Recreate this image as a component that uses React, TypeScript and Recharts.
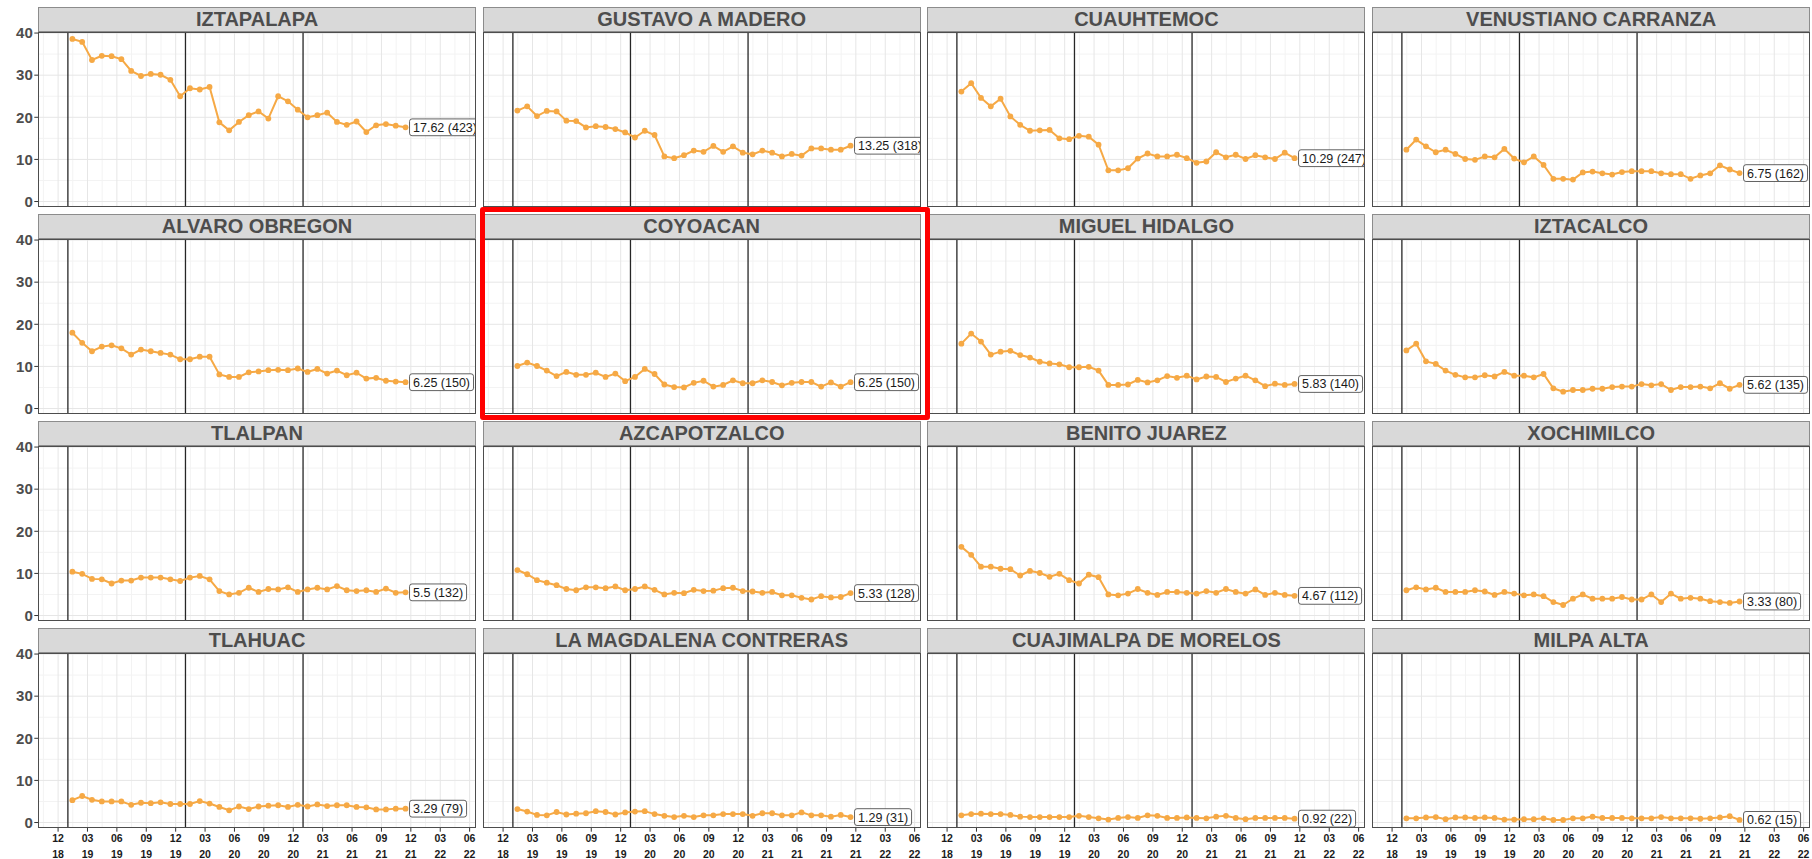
import React from 'react';
import { LineChart, Line, XAxis, YAxis, CartesianGrid, ReferenceLine } from 'recharts';

const FONT = '"Liberation Sans", Arial, Helvetica, sans-serif';
const ORANGE = '#f6a945';

// facet names, in grid order (4 x 4)
const BOROUGHS = [
  'IZTAPALAPA', 'GUSTAVO A MADERO', 'CUAUHTEMOC', 'VENUSTIANO CARRANZA',
  'ALVARO OBREGON', 'COYOACAN', 'MIGUEL HIDALGO', 'IZTACALCO',
  'TLALPAN', 'AZCAPOTZALCO', 'BENITO JUAREZ', 'XOCHIMILCO',
  'TLAHUAC', 'LA MAGDALENA CONTRERAS', 'CUAJIMALPA DE MORELOS', 'MILPA ALTA',
];

// count shown in the end label "(n)"
const LAST_COUNTS = [423, 318, 247, 162, 150, 150, 140, 135, 132, 128, 112, 80, 79, 31, 22, 15];

// monthly values, Jan 2019 .. Nov 2021
const iztapalapa = [38.6, 37.9, 33.6, 34.6, 34.5, 33.8, 31.0, 29.8, 30.3, 30.1, 28.9, 25.0, 26.9, 26.6, 27.2, 18.8, 16.9, 18.9, 20.5, 21.4, 19.7, 25.0, 23.8, 21.8, 20.0, 20.5, 21.1, 18.9, 18.2, 19.0, 16.5, 18.1, 18.4, 18.0, 17.62];
const gustavoAMadero = [21.6, 22.6, 20.3, 21.5, 21.4, 19.2, 19.1, 17.6, 17.9, 17.7, 17.2, 16.4, 15.2, 16.8, 15.8, 10.7, 10.3, 11.0, 12.1, 11.8, 13.2, 11.8, 13.1, 11.6, 11.2, 12.1, 11.6, 10.7, 11.3, 10.9, 12.6, 12.6, 12.3, 12.3, 13.25];
const cuauhtemoc = [26.1, 28.1, 24.6, 22.6, 24.4, 20.2, 18.2, 16.8, 16.9, 17.0, 15.0, 14.8, 15.6, 15.4, 13.5, 7.4, 7.4, 7.9, 10.2, 11.4, 10.7, 10.7, 11.1, 10.3, 9.2, 9.5, 11.7, 10.5, 11.1, 10.1, 11.0, 10.5, 10.1, 11.6, 10.29];
const venustianoCarranza = [12.3, 14.7, 13.1, 11.7, 12.3, 11.3, 10.1, 9.9, 10.7, 10.5, 12.5, 10.2, 9.3, 10.7, 8.7, 5.4, 5.4, 5.2, 6.9, 7.1, 6.7, 6.4, 7.0, 7.2, 7.2, 7.2, 6.7, 6.5, 6.5, 5.4, 6.2, 6.7, 8.6, 7.6, 6.75];
const alvaroObregon = [18.0, 15.6, 13.6, 14.7, 15.0, 14.3, 12.8, 14.0, 13.6, 13.2, 12.8, 11.7, 11.7, 12.3, 12.3, 8.1, 7.5, 7.5, 8.6, 8.8, 9.1, 9.2, 9.1, 9.5, 8.7, 9.4, 8.3, 9.0, 7.9, 8.5, 7.1, 7.3, 6.6, 6.4, 6.25];
const coyoacan = [10.1, 10.9, 10.1, 9.0, 7.7, 8.7, 8.0, 8.0, 8.5, 7.5, 8.3, 6.5, 7.5, 9.4, 8.2, 5.7, 5.1, 5.0, 6.1, 6.6, 5.2, 5.6, 6.7, 6.0, 6.0, 6.7, 6.3, 5.5, 6.1, 6.3, 6.3, 5.2, 6.2, 5.2, 6.25];
const miguelHidalgo = [15.4, 17.8, 15.9, 12.8, 13.5, 13.7, 12.7, 12.1, 11.1, 10.7, 10.5, 9.8, 9.8, 9.9, 9.0, 5.6, 5.6, 5.7, 6.8, 6.2, 6.7, 7.7, 7.3, 7.8, 6.9, 7.6, 7.5, 6.3, 7.1, 7.8, 6.7, 5.3, 5.9, 5.6, 5.83];
const iztacalco = [13.8, 15.4, 11.2, 10.6, 9.0, 8.0, 7.4, 7.4, 7.9, 7.6, 8.7, 7.8, 7.8, 7.4, 8.2, 4.8, 4.0, 4.4, 4.4, 4.7, 4.7, 5.1, 5.2, 5.2, 5.8, 5.5, 5.8, 4.4, 5.1, 5.1, 5.2, 4.8, 6.0, 4.7, 5.62];
const tlalpan = [10.4, 9.9, 8.7, 8.6, 7.6, 8.3, 8.3, 9.0, 9.0, 9.0, 8.6, 8.2, 9.0, 9.4, 8.6, 5.8, 5.0, 5.4, 6.6, 5.6, 6.3, 6.2, 6.7, 5.6, 6.2, 6.6, 6.2, 7.0, 6.0, 5.8, 6.0, 5.6, 6.4, 5.4, 5.5];
const azcapotzalco = [10.8, 9.8, 8.4, 7.8, 7.2, 6.3, 6.0, 6.7, 6.7, 6.5, 6.9, 6.0, 6.3, 6.9, 6.1, 5.0, 5.4, 5.3, 6.1, 5.8, 5.9, 6.5, 6.6, 5.8, 5.7, 5.4, 5.6, 4.8, 4.8, 4.2, 3.8, 4.6, 4.3, 4.4, 5.33];
const benitoJuarez = [16.3, 14.4, 11.6, 11.6, 11.1, 11.0, 9.5, 10.6, 10.1, 9.2, 9.9, 8.4, 7.6, 9.7, 9.1, 5.0, 4.8, 5.2, 6.3, 5.4, 4.9, 5.6, 5.6, 5.4, 5.2, 5.8, 5.4, 6.3, 5.6, 5.2, 6.2, 4.9, 5.4, 4.9, 4.67];
const xochimilco = [6.0, 6.7, 6.2, 6.6, 5.6, 5.6, 5.6, 6.0, 5.7, 4.9, 5.6, 5.2, 4.8, 5.0, 4.6, 3.2, 2.5, 4.0, 5.0, 4.0, 4.0, 4.0, 4.4, 3.8, 3.8, 5.0, 3.2, 5.2, 4.0, 4.2, 4.0, 3.4, 3.2, 3.0, 3.33];
const tlahuac = [5.3, 6.3, 5.4, 5.0, 5.0, 5.0, 4.2, 4.7, 4.6, 4.8, 4.4, 4.4, 4.4, 5.1, 4.5, 3.7, 2.9, 3.8, 3.2, 3.8, 4.0, 4.1, 3.7, 4.2, 3.8, 4.3, 3.9, 4.1, 4.1, 3.7, 3.6, 3.1, 3.1, 3.3, 3.29];
const magdalenaContreras = [3.2, 2.6, 1.8, 1.7, 2.5, 1.9, 2.1, 2.2, 2.7, 2.5, 1.9, 2.4, 2.6, 2.7, 2.0, 1.6, 1.3, 1.6, 1.3, 1.7, 1.7, 2.0, 2.0, 2.0, 1.6, 2.2, 2.2, 1.7, 1.7, 2.4, 1.7, 1.7, 1.4, 1.8, 1.29];
const cuajimalpa = [1.7, 2.0, 2.1, 2.0, 2.0, 1.8, 1.4, 1.3, 1.3, 1.3, 1.3, 1.3, 1.6, 1.3, 1.0, 0.7, 1.1, 1.3, 1.1, 1.7, 1.6, 1.1, 1.1, 1.2, 1.1, 1.0, 1.4, 1.6, 1.1, 0.8, 1.1, 1.1, 1.1, 1.1, 0.92];
const milpaAlta = [1.0, 1.0, 1.2, 1.3, 0.8, 1.2, 1.2, 1.1, 1.2, 1.1, 0.7, 0.7, 0.8, 0.8, 1.0, 0.6, 0.6, 1.0, 1.0, 1.4, 1.1, 1.1, 1.1, 1.0, 1.0, 1.0, 1.3, 1.0, 1.0, 1.0, 0.9, 1.0, 1.2, 1.5, 0.62];

const SERIES = [
  iztapalapa, gustavoAMadero, cuauhtemoc, venustianoCarranza,
  alvaroObregon, coyoacan, miguelHidalgo, iztacalco,
  tlalpan, azcapotzalco, benitoJuarez, xochimilco,
  tlahuac, magdalenaContreras, cuajimalpa, milpaAlta,
];

// x is measured in months since 2019-01-01; each value sits mid-month
const MONTH_X = iztapalapa.map((_, i) => i + 14 / 30.5);

// x ticks (every 3 months, Dec 2018 .. Jun 2022)
const X_TICKS = [-1, 2, 5, 8, 11, 14, 17, 20, 23, 26, 29, 32, 35, 38, 41];
const X_TICK_MONTHS = ['12', '03', '06', '09', '12', '03', '06', '09', '12', '03', '06', '09', '12', '03', '06'];
const X_TICK_YEARS = ['18', '19', '19', '19', '19', '20', '20', '20', '20', '21', '21', '21', '21', '22', '22'];
const X_MINOR = [-2.5, ...X_TICKS.slice(0, -1).map((t) => t + 1.5)];
const YEAR_LINES = [0, 12, 24];

const Y_TICKS = [0, 10, 20, 30, 40];
const Y_MINOR = [5, 15, 25, 35];

const X_DOMAIN: [number, number] = [-3.05, 41.65];
const Y_DOMAIN: [number, number] = [-1.3, 40.25];

// layout
const PLOT_W = 438;
const PLOT_H = 175;
const STRIP_H = 25;
const AXIS_W = 38;
const XAXIS_H = 31;
const PAD = 10; // room above/below the plot so y tick labels are not clipped
const COL_LEFT = [38, 482.7, 927.4, 1372.1];
const stripTop = (r: number) => 7 + 207 * r;
const plotTop = (r: number) => 32 + 207 * r;

const LABEL_FONT = 12.5;

let measureCtx: CanvasRenderingContext2D | null = null;
const textWidth = (s: string) => {
  if (!measureCtx) measureCtx = document.createElement('canvas').getContext('2d');
  if (!measureCtx) return s.length * 7;
  measureCtx.font = `${LABEL_FONT}px ${FONT}`;
  return measureCtx.measureText(s).width;
};

const XTick = (props: any) => {
  const { x, y, payload } = props;
  const i = X_TICKS.indexOf(payload.value);
  return (
    <text x={x} y={y} textAnchor="middle" fontSize={10.5} fontWeight="bold" fill="#1a1a1a" fontFamily={FONT}>
      <tspan x={x} dy={10}>{X_TICK_MONTHS[i]}</tspan>
      <tspan x={x} dy={16.2}>{X_TICK_YEARS[i]}</tspan>
    </text>
  );
};

const makeDot = (values: number[], count: number) => (p: any) => {
  const { cx, cy, index } = p;
  if (cx == null || cy == null) return <g key={`d-${index}`} />;
  const isLast = index === values.length - 1;
  const txt = `${values[values.length - 1]} (${count})`;
  const w = textWidth(txt) + 7;
  return (
    <g key={`d-${index}`}>
      <circle cx={cx} cy={cy} r={2.9} fill={ORANGE} />
      {isLast && (
        <g>
          <rect x={cx + 4} y={cy - 8.4} width={w} height={16.8} rx={2.5} fill="#ffffff" stroke="#3a3a3a" strokeWidth={0.8} />
          <text x={cx + 7.5} y={cy + 0.5} dominantBaseline="central" fontSize={LABEL_FONT} fill="#1a1a1a" fontFamily={FONT}>
            {txt}
          </text>
        </g>
      )}
    </g>
  );
};

const Panel: React.FC<{ idx: number }> = ({ idx }) => {
  const row = Math.floor(idx / 4);
  const col = idx % 4;
  const values = SERIES[idx];
  const data = values.map((v, i) => ({ x: MONTH_X[i], v }));
  const showY = col === 0;
  const showX = row === 3;
  const w = PLOT_W + (showY ? AXIS_W : 0);
  const h = PLOT_H + (showX ? XAXIS_H : 0) + 2 * PAD;
  const left = COL_LEFT[col] - (showY ? AXIS_W : 0);
  const top = plotTop(row) - PAD;

  return (
    <>
      <div
        style={{
          position: 'absolute',
          left: COL_LEFT[col],
          top: stripTop(row),
          width: PLOT_W,
          height: STRIP_H,
          boxSizing: 'border-box',
          background: '#d9d9d9',
          border: '1px solid #8c8c8c',
          color: '#4d4d4d',
          fontWeight: 'bold',
          fontSize: 20,
          lineHeight: `${STRIP_H - 2}px`,
          textAlign: 'center',
          whiteSpace: 'nowrap',
        }}
      >
        {BOROUGHS[idx]}
      </div>
      <div style={{ position: 'absolute', left, top, width: w, height: h, overflow: 'hidden' }}>
        <LineChart width={w} height={h} data={data} margin={{ top: PAD, right: 0, bottom: PAD, left: 0 }}>
          <CartesianGrid horizontalValues={Y_MINOR} verticalValues={X_MINOR} stroke="#f3f3f3" strokeWidth={1} />
          <CartesianGrid horizontalValues={Y_TICKS} verticalValues={X_TICKS} stroke="#e6e6e6" strokeWidth={1} />
          <XAxis
            type="number"
            dataKey="x"
            domain={X_DOMAIN}
            allowDataOverflow
            ticks={X_TICKS}
            interval={0}
            hide={!showX}
            height={XAXIS_H}
            axisLine={false}
            tickLine={{ stroke: '#333333' }}
            tickSize={3.7}
            tickMargin={0}
            tick={<XTick />}
          />
          <YAxis
            type="number"
            domain={Y_DOMAIN}
            allowDataOverflow
            ticks={Y_TICKS}
            interval={0}
            hide={!showY}
            width={AXIS_W}
            axisLine={false}
            tickLine={{ stroke: '#333333' }}
            tickSize={3.7}
            tickMargin={1.5}
            tick={{ fontSize: 15, fontWeight: 'bold', fill: '#4d4d4d', fontFamily: FONT }}
          />
          {YEAR_LINES.map((x) => (
            <ReferenceLine key={x} x={x} stroke="#262626" strokeWidth={1.3} />
          ))}
          <Line
            type="linear"
            dataKey="v"
            stroke={ORANGE}
            strokeWidth={2}
            dot={makeDot(values, LAST_COUNTS[idx])}
            activeDot={false}
            isAnimationActive={false}
          />
        </LineChart>
      </div>
      <div
        style={{
          position: 'absolute',
          left: COL_LEFT[col],
          top: plotTop(row),
          width: PLOT_W,
          height: PLOT_H,
          boxSizing: 'border-box',
          border: '1px solid #4d4d4d',
          pointerEvents: 'none',
        }}
      />
    </>
  );
};

export default function App() {
  return (
    <div
      style={{
        position: 'absolute',
        left: 0,
        top: 0,
        width: 1812,
        height: 859,
        background: '#ffffff',
        fontFamily: FONT,
        overflow: 'hidden',
      }}
    >
      {SERIES.map((_, i) => (
        <Panel key={i} idx={i} />
      ))}
      {/* highlight around COYOACAN */}
      <div
        style={{
          position: 'absolute',
          left: 480,
          top: 207,
          width: 450,
          height: 213,
          boxSizing: 'border-box',
          border: '5px solid #ff0000',
          borderRadius: 3,
          pointerEvents: 'none',
        }}
      />
    </div>
  );
}
